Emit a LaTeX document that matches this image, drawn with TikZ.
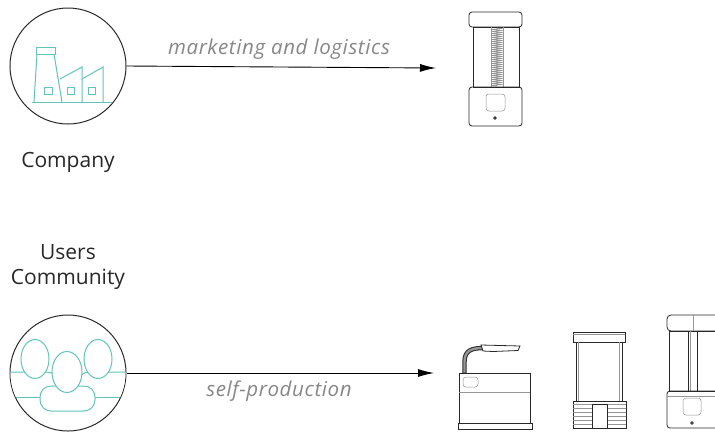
\documentclass[tikz,border=0pt]{standalone}
\usepackage{fontspec}
\setmainfont{Open Sans}
\usetikzlibrary{arrows.meta,decorations.pathmorphing}
\definecolor{teal1}{RGB}{98,196,186}
\definecolor{ink}{RGB}{40,40,40}
\definecolor{labelgray}{RGB}{135,135,135}
\definecolor{partgray}{RGB}{150,150,150}
\tikzset{
  role/.style={circle, draw=ink, line width=1pt, minimum size=116pt, inner sep=0pt},
  flow/.style={draw=black, line width=0.9pt, -{Latex[length=16pt,width=8pt]}},
  flowlabel/.style={text=labelgray, font=\fontsize{20.5}{24}\selectfont\itshape\addfontfeatures{LetterSpace=3}},
  rolename/.style={text=ink, font=\fontsize{21}{25.5}\selectfont, align=center},
  icon/.style={draw=teal1, line width=1pt},
  dev/.style={draw=ink, line width=0.8pt},
  devthin/.style={draw=partgray, line width=0.5pt},
}
\begin{document}
\begin{tikzpicture}[x=1pt, y=-1pt]
\clip (0,0) rectangle (715,432);
\fill[white] (0,0) rectangle (715,432);

% ---- roles ----
\node[role] (company) at (68,66) {};
\node[role] (community) at (68,373) {};
\node[rolename] (companyname) at (68,162) {Company};
\node[rolename] (communityname) at (68,267) {Users\\Community};

% factory icon
\begin{scope}[icon]
  \draw (32,102) -- (112,102);
  \draw (36,47) rectangle (55,54);
  \draw (37,54) -- (34,102);
  \draw (54,54) -- (62,102);
  \draw (60,79) -- (82,67) -- (82,102);
  \draw (82,79) -- (103,67) -- (103,102);
  \draw (44.5,87) rectangle (52,94.5);
  \draw (67,87) rectangle (74.5,94.5);
  \draw (88,87) rectangle (95.5,94.5);
\end{scope}

% people icon
\begin{scope}
  \clip (68,373) circle (57.5);
  \draw[icon, fill=white, rounded corners=11pt] (-5,397) -- (-5,372) -- (58,372) -- (58,397);
  \draw[icon, fill=white, rounded corners=11pt] (141,397) -- (141,372) -- (78,372) -- (78,397);
  \draw[icon] (0,397) -- (136,397);
  \draw[icon, fill=white] (35,359) ellipse (14 and 19.5);
  \draw[icon, fill=white] (98,359) ellipse (14 and 19.5);
  \draw[icon, fill=white, rounded corners=11pt] (40,411) -- (40,386) -- (95,386) -- (95,411) -- cycle;
  \draw[icon, fill=white] (67,372) ellipse (15 and 20.5);
\end{scope}

% ---- flows ----
\coordinate (productA) at (436,68);
\coordinate (productB) at (434,373);
\draw[flow] (company.east) -- (productA);
\draw[flow] (community.east) -- (productB);
\node[flowlabel] (mlabel) at (279,49) {marketing and logistics};
\node[flowlabel] (slabel) at (279,391) {self-production};

% ---- industrial product ----
\draw[dev, fill=white, rounded corners=3pt] (469,27) -- (469,12) -- (522,12) -- (522,27) -- cycle;
\draw[dev] (473,27) rectangle (519,87);
\draw[devthin] (491,27) -- (491,87) (503,27) -- (503,87);
\draw[draw=partgray, line width=0.6pt, decorate, decoration={zigzag, segment length=2pt, amplitude=5.5pt}] (497,28) -- (497,86);
\draw[dev, rounded corners=3pt] (469,87) -- (469,126) -- (522,126) -- (522,87) -- cycle;
\draw[devthin, rounded corners=3pt] (486,94) rectangle (505,111);
\draw[dev] (495,118) circle (1.3);

% ---- self-produced machines ----
% desktop unit with lamp arm
\draw[dev] (459,373) rectangle (530,423);
\draw[devthin] (459,392) -- (530,392);
\draw[devthin, rounded corners=3pt] (463,377) rectangle (478,387);
\draw[dev] (458,423) rectangle (532,429);
\draw[line width=4.4pt, ink] (464.5,373) -- (464.5,362) .. controls (464.5,350) and (472,348) .. (484,348);
\draw[line width=2.4pt, partgray] (464.5,372.5) -- (464.5,362) .. controls (464.5,350) and (472,348) .. (484,348);
\draw[dev, fill=white] (481,345) -- (520,346) -- (518,350.5) -- (493,351.5) -- (483,351) -- cycle;

% column unit with striped base
\draw[dev] (573,332) rectangle (625,342);
\draw[devthin] (573,334.5) -- (625,334.5);
\draw[dev] (576,342) rectangle (622,401);
\draw[devthin] (578.5,342) -- (578.5,401) (619.5,342) -- (619.5,401);
\draw[dev] (573,401) rectangle (626,428);
\draw[devthin] (573,404.5) -- (626,404.5);
\foreach \yy in {408,412,416,420,424}
  \draw[devthin] (573,\yy) -- (592,\yy) (607,\yy) -- (626,\yy);
\draw[dev] (592,404.5) rectangle (607,428);

% tall unit at the edge
\draw[dev, rounded corners=4pt] (667,331) -- (667,315) -- (721,315) -- (721,331) -- cycle;
\draw[devthin] (693.5,315) -- (693.5,331);
\draw[dev] (669,331) rectangle (719,391);
\draw[dev] (688,331) -- (688,391) (697,331) -- (697,391);
\draw[devthin] (690.5,331) -- (690.5,391);
\draw[dev, rounded corners=3pt] (667,391) -- (667,428) -- (721,428) -- (721,391) -- cycle;
\draw[devthin] (667,396) -- (721,396);
\draw[devthin, rounded corners=3pt] (683,398) rectangle (701,415);
\draw[dev] (692,423) circle (1.3);
\end{tikzpicture}
\end{document}
